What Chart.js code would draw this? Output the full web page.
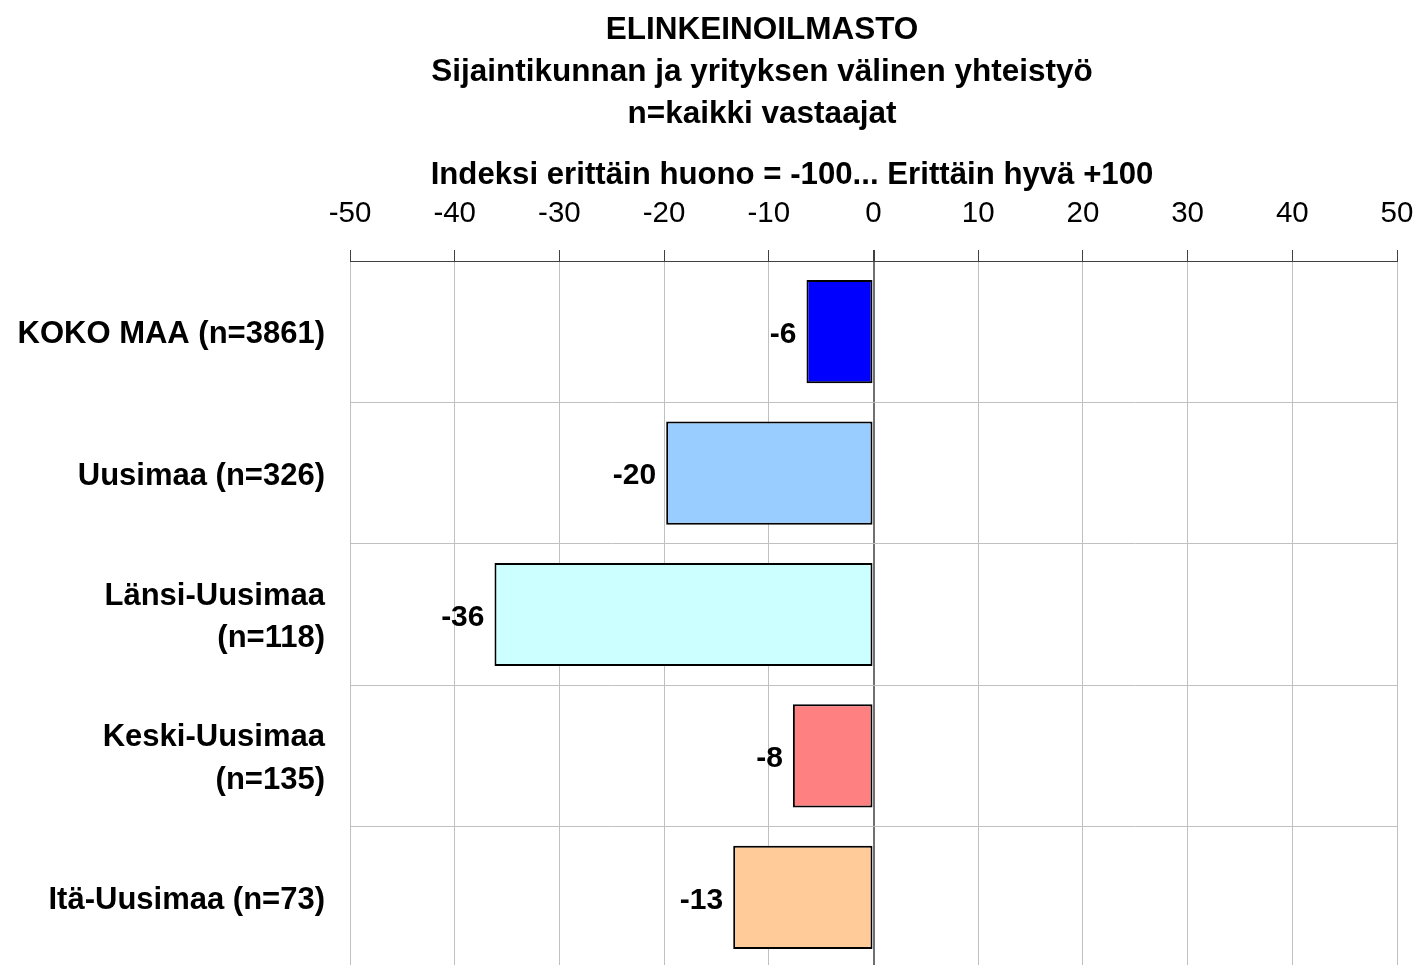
<!DOCTYPE html>
<html>
<head>
<meta charset="utf-8">
<script src="https://cdn.jsdelivr.net/npm/chart.js@4.4.0/dist/chart.umd.min.js"></script>
<style>
html,body{margin:0;padding:0;background:#fff;overflow:hidden;}
#wrap{position:absolute;left:0;top:0;width:1418px;height:975px;}
</style>
</head>
<body>
<div id="wrap"><canvas id="c" width="1418" height="975"></canvas></div>
<script>
const categories = [
  'KOKO MAA (n=3861)',
  'Uusimaa (n=326)',
  ['Länsi-Uusimaa', '(n=118)'],
  ['Keski-Uusimaa', '(n=135)'],
  'Itä-Uusimaa (n=73)'
];
const indexValues = [-6.4, -19.8, -36.2, -7.7, -13.4];
const valueLabels = ['-6', '-20', '-36', '-8', '-13'];
const barColors = ['#0000FF', '#99CCFF', '#CCFFFF', '#FF8080', '#FFCC99'];
const titleLines = ['ELINKEINOILMASTO', 'Sijaintikunnan ja yrityksen välinen yhteistyö', 'n=kaikki vastaajat'];
const axisTitle = 'Indeksi erittäin huono = -100... Erittäin hyvä +100';
const axisMin = -50, axisMax = 50, axisStep = 10;

const FONT = '"Liberation Sans", Arial, Helvetica, sans-serif';

const headerPlugin = {
  id: 'header',
  afterDraw(chart) {
    const ctx = chart.ctx;
    ctx.save();
    ctx.fillStyle = '#000';
    ctx.textAlign = 'center';
    ctx.textBaseline = 'middle';
    ctx.font = 'bold 31.5px ' + FONT;
    titleLines.forEach((t, i) => ctx.fillText(t, 762, 30 + i * 42));
    ctx.font = 'bold 31.2px ' + FONT;
    ctx.fillText(axisTitle, 792, 175);
    ctx.restore();
  }
};

const valueLabelPlugin = {
  id: 'valueLabels',
  afterDatasetsDraw(chart) {
    const ctx = chart.ctx;
    const meta = chart.getDatasetMeta(0);
    ctx.save();
    ctx.fillStyle = '#000';
    ctx.font = 'bold 30px ' + FONT;
    ctx.textAlign = 'right';
    ctx.textBaseline = 'middle';
    meta.data.forEach((bar, i) => {
      const left = Math.min(bar.x, bar.base);
      ctx.fillText(valueLabels[i], left - 10, bar.y + 3);
    });
    ctx.restore();
  }
};

new Chart(document.getElementById('c'), {
  type: 'bar',
  data: {
    labels: categories,
    datasets: [{
      data: indexValues,
      backgroundColor: barColors,
      borderColor: '#000',
      borderWidth: 2,
      borderSkipped: false,
      barPercentage: 0.73,
      categoryPercentage: 1.0
    }]
  },
  options: {
    indexAxis: 'y',
    responsive: false,
    animation: false,
    devicePixelRatio: 1,
    layout: { padding: { top: 0, right: 21, bottom: 7, left: 0 } },
    plugins: { legend: { display: false }, title: { display: false }, tooltip: { enabled: false } },
    scales: {
      x: {
        position: 'top',
        min: axisMin,
        max: axisMax,
        ticks: {
          stepSize: axisStep,
          color: '#000',
          padding: 18,
          font: { family: FONT, size: 29.5, lineHeight: 1.2 },
          maxRotation: 0
        },
        grid: {
          color: (c) => (c.tick && c.tick.value === 0) ? '#707070' : '#C0C0C0',
          lineWidth: (c) => (c.tick && c.tick.value === 0) ? 2 : 1,
          tickColor: '#404040',
          tickLength: 11,
          drawTicks: true
        },
        border: { display: true, color: '#404040', width: 1 },
        afterFit: (s) => { s.height = 261; s.paddingLeft = 0; s.paddingRight = 0; }
      },
      y: {
        ticks: {
          color: '#000',
          padding: 25,
          labelOffset: 3,
          font: { family: FONT, size: 31, weight: 'bold', lineHeight: 1.36 }
        },
        grid: { color: '#C0C0C0', drawTicks: false, offset: true },
        border: { display: false },
        afterFit: (s) => { s.width = 350; s.paddingTop = 0; s.paddingBottom = 0; }
      }
    }
  },
  plugins: [headerPlugin, valueLabelPlugin]
});
</script>
</body>
</html>
